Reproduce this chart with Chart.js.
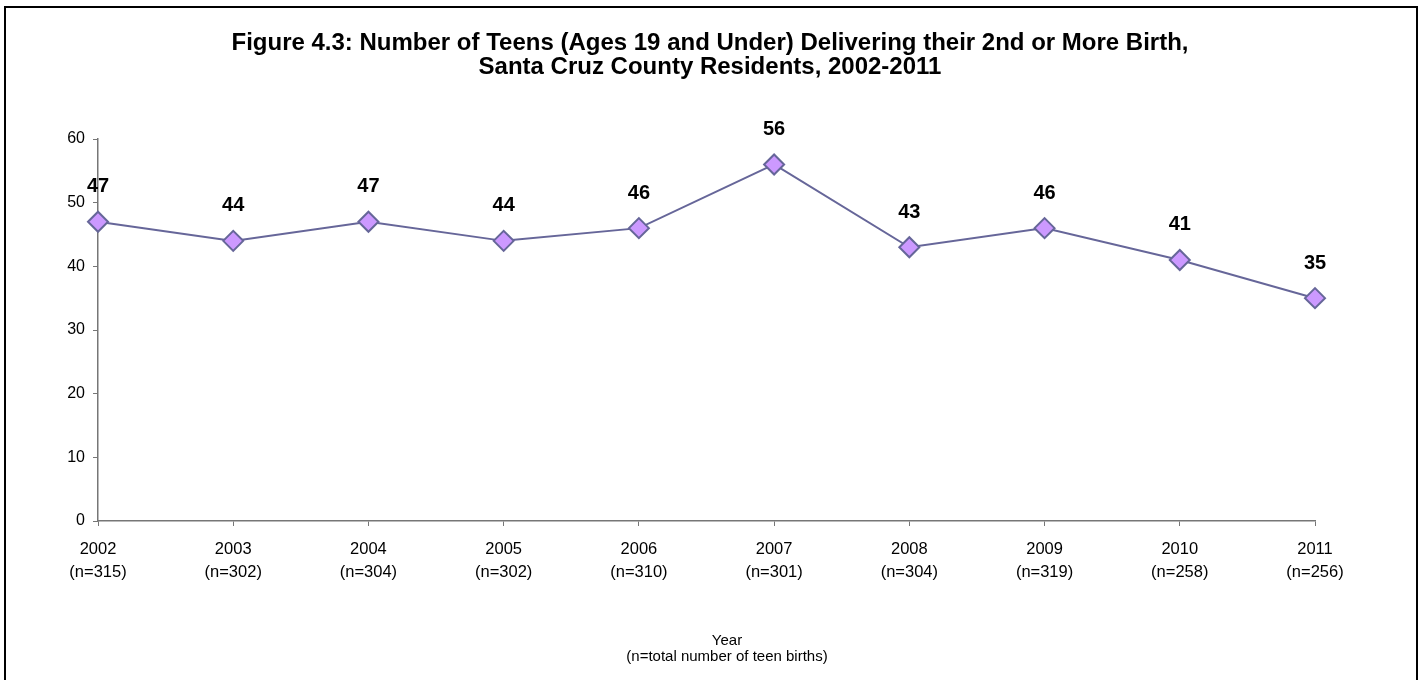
<!DOCTYPE html>
<html>
<head>
<meta charset="utf-8">
<title>Teens Delivering 2nd or More Birth</title>
<script src="https://cdn.jsdelivr.net/npm/chart.js@4"></script>
<style>
  html, body { margin: 0; padding: 0; background: #fff; overflow: hidden; }
  #wrap { width: 1421px; height: 680px; }
</style>
</head>
<body>
<div id="wrap"><canvas id="teenChart" width="1421" height="680"></canvas></div>
<script>
// Data
const years = ['2002', '2003', '2004', '2005', '2006', '2007', '2008', '2009', '2010', '2011'];
const teenBirthTotals = [315, 302, 304, 302, 310, 301, 304, 319, 258, 256];
const secondBirths = [47, 44, 47, 44, 46, 56, 43, 46, 41, 35];
const yTicks = [0, 10, 20, 30, 40, 50, 60];

const titleLines = [
    'Figure 4.3: Number of Teens (Ages 19 and Under) Delivering their 2nd or More Birth,',
    'Santa Cruz County Residents, 2002-2011'
];
const captionLines = ['Year', '(n=total number of teen births)'];

const FONT = '"Liberation Sans", Arial, Helvetica, sans-serif';
const AXIS_COLOR = '#767676';

// Two-line category labels: year + n
const xLabels = years.map((y, i) => [y, `(n=${teenBirthTotals[i]})`]);

// Frame around the whole figure
const framePlugin = {
    id: 'frame',
    beforeDraw(chart) {
        const ctx = chart.ctx;
        ctx.save();
        ctx.fillStyle = '#fff';
        ctx.fillRect(0, 0, chart.width, chart.height);
        ctx.strokeStyle = '#000';
        ctx.lineWidth = 2;
        ctx.strokeRect(5, 7, 1412, 700);
        ctx.restore();
    }
};

// Value labels above each marker
const valueLabels = {
    id: 'valueLabels',
    afterDatasetsDraw(chart) {
        const ctx = chart.ctx;
        const meta = chart.getDatasetMeta(0);
        ctx.save();
        ctx.font = `bold 20px ${FONT}`;
        ctx.fillStyle = '#000';
        ctx.textAlign = 'center';
        ctx.textBaseline = 'middle';
        meta.data.forEach((pt, i) => {
            ctx.fillText(String(secondBirths[i]), pt.x, pt.y - 35);
        });
        ctx.restore();
    }
};

// Heading (centred on the whole figure) and x axis caption
const textBlocks = {
    id: 'textBlocks',
    afterDraw(chart) {
        const ctx = chart.ctx;
        ctx.save();
        ctx.fillStyle = '#000';
        ctx.textAlign = 'center';
        ctx.textBaseline = 'middle';
        ctx.font = `bold 24px ${FONT}`;
        ctx.fillText(titleLines[0], 710, 43);
        ctx.fillText(titleLines[1], 710, 67);
        ctx.font = `15px ${FONT}`;
        ctx.fillText(captionLines[0], 727, 641);
        ctx.fillText(captionLines[1], 727, 657);
        ctx.restore();
    }
};

const ctx = document.getElementById('teenChart').getContext('2d');
new Chart(ctx, {
    type: 'line',
    data: {
        labels: xLabels,
        datasets: [{
            data: secondBirths,
            borderColor: '#666699',
            borderWidth: 2,
            pointStyle: 'rectRot',
            pointRadius: 10,
            pointBackgroundColor: '#CC99FF',
            pointBorderColor: '#666699',
            pointBorderWidth: 2,
            tension: 0,
            clip: false
        }]
    },
    options: {
        responsive: false,
        animation: false,
        layout: { padding: { left: 0, right: 106, top: 139, bottom: 0 } },
        plugins: {
            legend: { display: false },
            tooltip: { enabled: false },
            title: { display: false }
        },
        scales: {
            x: {
                type: 'category',
                offset: false,
                grid: {
                    offset: false,
                    drawOnChartArea: false,
                    drawTicks: true,
                    tickLength: 5,
                    color: AXIS_COLOR
                },
                border: { display: true, color: AXIS_COLOR, width: 1.5 },
                ticks: {
                    color: '#000',
                    maxRotation: 0,
                    autoSkip: false,
                    padding: 11,
                    font: { family: FONT, size: 16.5, lineHeight: 1.45 }
                },
                afterFit(scale) { scale.height = 159; }
            },
            y: {
                min: 0,
                max: 60,
                afterBuildTicks(scale) { scale.ticks = yTicks.map(v => ({ value: v })); },
                grid: {
                    drawOnChartArea: false,
                    drawTicks: true,
                    tickLength: 5,
                    color: AXIS_COLOR
                },
                border: { display: true, color: AXIS_COLOR, width: 1.5 },
                ticks: {
                    color: '#000',
                    padding: 8,
                    font: { family: FONT, size: 16 }
                },
                afterFit(scale) { scale.width = 98; }
            }
        }
    },
    plugins: [framePlugin, valueLabels, textBlocks]
});
</script>
</body>
</html>
